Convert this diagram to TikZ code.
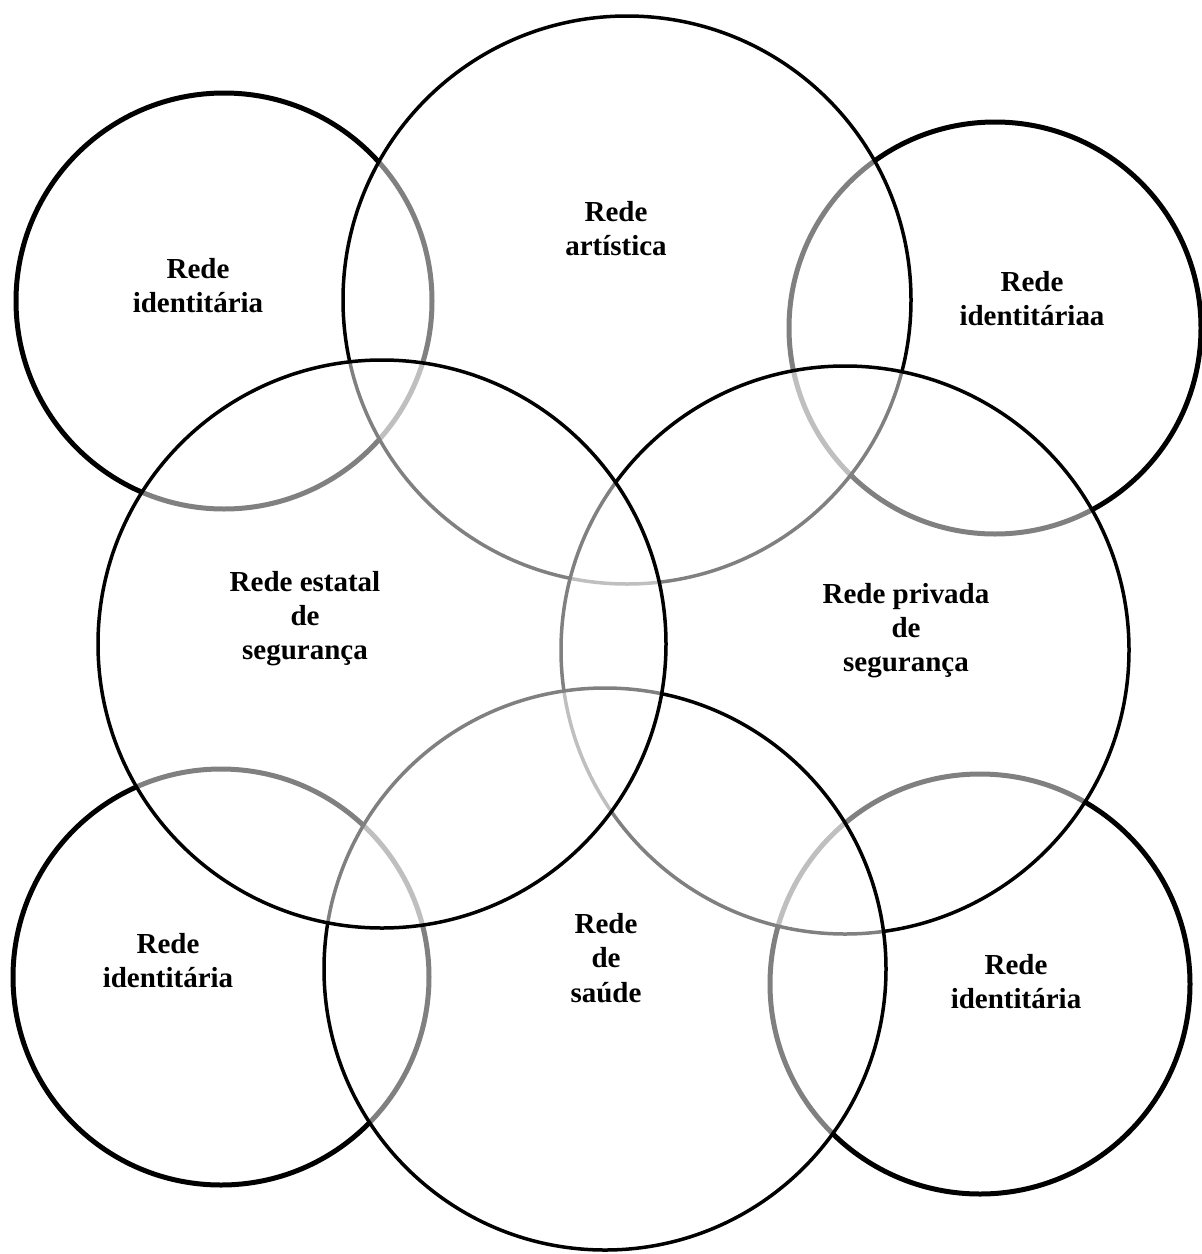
\documentclass[tikz,border=0pt]{standalone}
\usepackage{fontspec}
\setmainfont{Liberation Serif}
\usepackage{tikz}

\begin{document}
\begin{tikzpicture}[x=0.02cm, y=-0.02cm,
      big/.style={draw=black, line width=0.07cm, fill=white, fill opacity=0.5},
      idt/.style={draw=black, line width=0.1cm, fill=white, fill opacity=0.5},
      lbl/.style={anchor=north, inner sep=0pt, align=center,
                  font=\fontsize{16.5}{19.5}\selectfont\bfseries}
  ]
    \fill[white] (0,0) rectangle (1201,1254);
    \useasboundingbox (0,0) rectangle (1201,1254);
    % circles, back to front
    \draw[idt] (224,301) circle[radius=208];
    \draw[idt] (995,328) circle[radius=206];
    \draw[big] (627,300) circle[radius=284];
    \draw[idt] (980,984) circle[radius=210];
    \draw[idt] (221,977) circle[radius=208];
    \draw[big] (845,650) circle[radius=284];
    \draw[big] (605,969) circle[radius=281];
    \draw[big] (382,644) circle[radius=284];
    % labels
    \node[lbl] (idtl) at (198,258) {Rede\\ identitária};
    \node[lbl] (art)  at (616,201) {Rede\\ artística};
    \node[lbl] (idtr) at (1032,271) {Rede\\ identitáriaa};
    \node[lbl] (est)  at (305,571) {Rede estatal\\ de\\ segurança};
    \node[lbl] (priv) at (906,583) {Rede privada\\ de\\ segurança};
    \node[lbl] (idbl) at (168,933) {Rede\\ identitária};
    \node[lbl] (sau)  at (606,913) {Rede\\ de\\ saúde};
    \node[lbl] (idbr) at (1016,954) {Rede\\ identitária};
  \end{tikzpicture}
\end{document}
